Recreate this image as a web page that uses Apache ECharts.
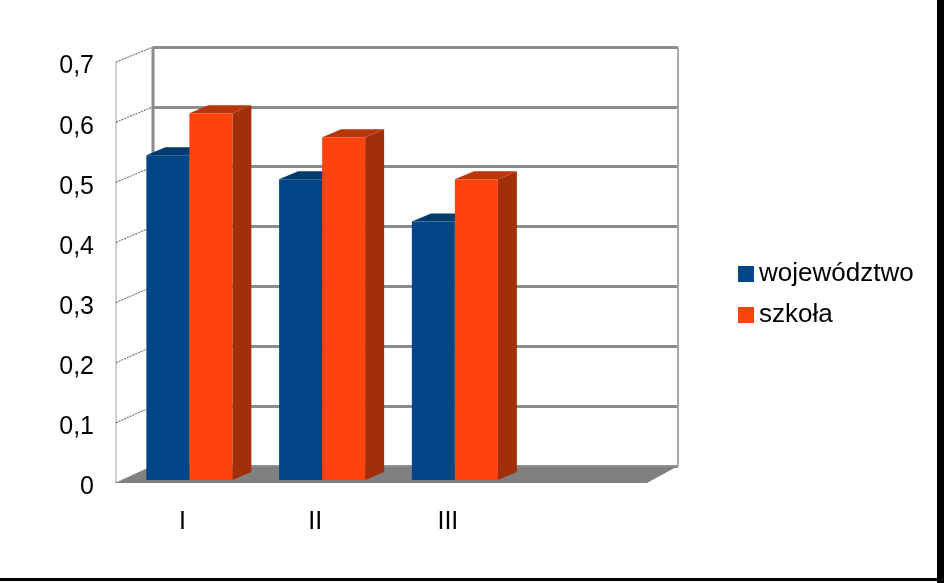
<!DOCTYPE html>
<html>
<head>
<meta charset="utf-8">
<style>
  html, body { margin: 0; padding: 0; background: #fff; }
  #chart { width: 944px; height: 583px; }
</style>
<script src="https://cdn.jsdelivr.net/npm/echarts@6/dist/echarts.min.js"></script>
</head>
<body>
<div id="chart"></div>
<script>
const categories = ["I", "II", "III", ""];
const seriesNames = ["województwo", "szkoła"];
const wojewodztwo = [0.54, 0.50, 0.43];
const szkola = [0.61, 0.57, 0.50];
const yTickLabels = ["0", "0,1", "0,2", "0,3", "0,4", "0,5", "0,6", "0,7"];

// back wall and front plane of the fake 3d box
const BACK = { left: 153, top: 47, right: 266, bottom: 117 };
const FRONT = { left: 116, top: 62, right: 297, bottom: 100 };
const DEPTH_IN = [7, -3];     // bar front face sits slightly behind the front plane
const DEPTH_BAR = [19, -8];   // bar thickness in depth
const BAR_RATIO = 0.324;
const FONT = "Liberation Sans, Arial, sans-serif";

const colors = {
    front: ["#004586", "#ff420e"],
    top: ["#003a70", "#b9360b"],
    side: ["#002d57", "#a22f09"],
};

const chart = echarts.init(document.getElementById("chart"));

const renderBar = (seriesIdx) => (params, api) => {
    const idx = api.value(0);
    const val = api.value(1);
    const base = api.coord([idx, 0]);
    const top = api.coord([idx, val]);
    const barW = api.size([1, 0])[0] * BAR_RATIO;
    const x0 = base[0] + DEPTH_IN[0] + (seriesIdx === 0 ? -barW : 0);
    const x1 = x0 + barW;
    const yb = base[1] + DEPTH_IN[1];
    const yt = top[1] + DEPTH_IN[1];
    const [dx, dy] = DEPTH_BAR;
    return {
        type: "group",
        children: [
            {
                type: "polygon",
                shape: { points: [[x1, yb], [x1 + dx, yb + dy], [x1 + dx, yt + dy], [x1, yt]] },
                style: { fill: colors.side[seriesIdx] },
            },
            {
                type: "polygon",
                shape: { points: [[x0, yt], [x1, yt], [x1 + dx, yt + dy], [x0 + dx, yt + dy]] },
                style: { fill: colors.top[seriesIdx] },
            },
            {
                type: "rect",
                shape: { x: x0, y: yt, width: barW, height: yb - yt },
                style: { fill: colors.front[seriesIdx] },
            },
        ],
    };
};

const toData = (arr) => arr.map((v, i) => [i, v]);

const option = {
    animation: false,
    backgroundColor: "#fff",
    textStyle: { fontFamily: FONT },
    legend: {
        orient: "vertical",
        left: 733,
        top: 256,
        itemWidth: 16,
        itemHeight: 16,
        itemGap: 15,
        itemTextGap: 6,
        icon: "rect",
        textStyle: { fontSize: 26, color: "#000", fontFamily: FONT },
        data: seriesNames.map((name, i) => ({ name, itemStyle: { color: colors.front[i] } })),
    },
    grid: [
        Object.assign({ containLabel: false }, BACK),
        Object.assign({ containLabel: false }, FRONT),
    ],
    xAxis: [
        { type: "category", gridIndex: 0, data: categories, show: false },
        {
            type: "category",
            gridIndex: 1,
            data: categories,
            axisLine: { show: false },
            axisTick: { show: false },
            axisLabel: { fontSize: 25, color: "#000", margin: 27, fontFamily: FONT },
        },
    ],
    yAxis: [
        {
            type: "value",
            gridIndex: 0,
            min: 0,
            max: 0.7,
            interval: 0.1,
            axisLine: { show: false },
            axisTick: { show: false },
            axisLabel: { show: false },
            splitLine: { show: true, lineStyle: { color: "#8c8c8c", width: 3 } },
        },
        {
            type: "value",
            gridIndex: 1,
            min: 0,
            max: 0.7,
            interval: 0.1,
            axisLine: { show: false },
            axisTick: { show: false },
            splitLine: { show: false },
            axisLabel: {
                color: "#000",
                margin: 22,
                formatter: (v) => "{t|" + yTickLabels[Math.round(v * 10)] + "}",
                rich: {
                    t: { fontSize: 25, color: "#000", fontFamily: FONT, padding: [9, 0, 0, 0] },
                },
            },
        },
    ],
    series: [
        {
            name: seriesNames[0],
            type: "custom",
            xAxisIndex: 1,
            yAxisIndex: 1,
            itemStyle: { color: colors.front[0] },
            renderItem: renderBar(0),
            data: toData(wojewodztwo),
            z: 5,
        },
        {
            name: seriesNames[1],
            type: "custom",
            xAxisIndex: 1,
            yAxisIndex: 1,
            itemStyle: { color: colors.front[1] },
            renderItem: renderBar(1),
            data: toData(szkola),
            z: 6,
        },
    ],
};

chart.setOption(option);

// walls, floor and frame built from the grid rectangles
const W = 944;
const H = 583;
const bL = BACK.left, bR = W - BACK.right, bT = BACK.top, bB = H - BACK.bottom;
const fL = FRONT.left, fR = W - FRONT.right, fT = FRONT.top, fB = H - FRONT.bottom;

const graphics = [];
// wall edges
graphics.push({
    type: "line", z: 1,
    shape: { x1: fL, y1: fT, x2: fL, y2: fB },
    style: { stroke: "#a0a0a0", lineWidth: 1 },
});
graphics.push({
    type: "line", z: 1,
    shape: { x1: bL, y1: bT, x2: bL, y2: bB },
    style: { stroke: "#8c8c8c", lineWidth: 3 },
});
graphics.push({
    type: "line", z: 1,
    shape: { x1: bR, y1: bT, x2: bR, y2: bB },
    style: { stroke: "#a8a8a8", lineWidth: 2 },
});
for (let i = 0; i < yTickLabels.length; i++) {
    const v = i / 10;
    const yb = chart.convertToPixel({ yAxisIndex: 0 }, v);
    const yf = chart.convertToPixel({ yAxisIndex: 1 }, v);
    graphics.push({
        type: "line", z: 1,
        shape: { x1: fL, y1: yf, x2: bL, y2: yb },
        style: { stroke: "#777", lineWidth: 1.2, lineDash: [2, 1] },
    });
}
// floor
graphics.push({
    type: "polygon", z: 2,
    shape: { points: [[fL, fB], [fR, fB], [bR, bB], [bL, bB]] },
    style: { fill: "#808080" },
});
graphics.push({
    type: "line", z: 2,
    shape: { x1: bL, y1: bB, x2: bR, y2: bB },
    style: { stroke: "#999", lineWidth: 1 },
});
// outer frame (right and bottom black edge)
graphics.push({ type: "rect", z: 10, shape: { x: 937, y: 0, width: 7, height: H }, style: { fill: "#000" } });
graphics.push({ type: "rect", z: 10, shape: { x: 0, y: 578, width: W, height: 3 }, style: { fill: "#000" } });

chart.setOption({ graphic: graphics });
</script>
</body>
</html>
